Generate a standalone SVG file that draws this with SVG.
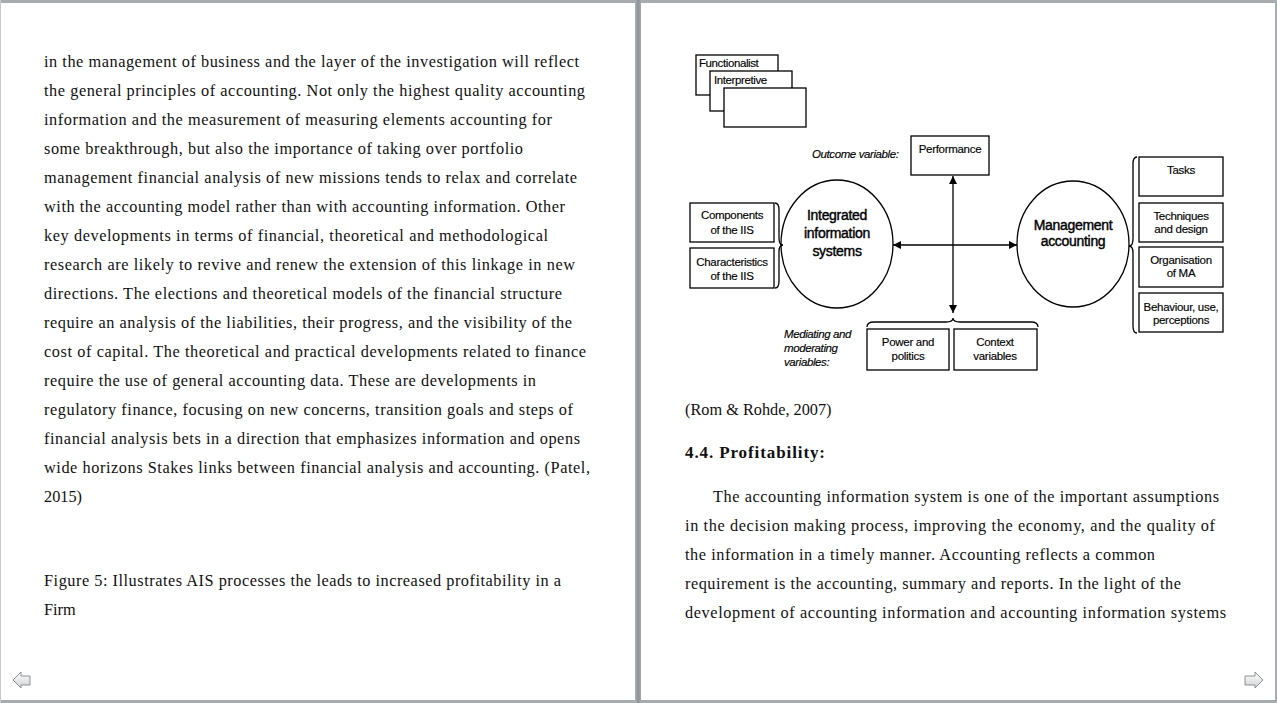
<svg xmlns="http://www.w3.org/2000/svg" width="1277" height="703" viewBox="0 0 1277 703">
<defs>
<linearGradient id="divg" x1="0" y1="0" x2="1" y2="0">
<stop offset="0" stop-color="#b0b3b7"/><stop offset="0.5" stop-color="#8c9094"/><stop offset="1" stop-color="#a8abaf"/>
</linearGradient>
<linearGradient id="navg" x1="0" y1="0" x2="0" y2="1">
<stop offset="0" stop-color="#ffffff"/><stop offset="1" stop-color="#cfd1d3"/>
</linearGradient>
<marker id="ah" viewBox="0 0 10 10" refX="10" refY="5" markerWidth="8" markerHeight="8" markerUnits="userSpaceOnUse" orient="auto-start-reverse">
<path d="M0,0 L10,5 L0,10 z" fill="#000"/>
</marker>
<style>
.body{font-family:"Liberation Serif","Times New Roman",serif;font-size:16.3px;fill:#111;}
.bold{font-weight:bold;font-size:17px;}
.d{font-family:"Liberation Sans",Arial,sans-serif;fill:#000;}
.lab{font-size:11.5px;text-anchor:middle;letter-spacing:-0.3px;stroke:#000;stroke-width:0.15;}
.big{font-size:14px;text-anchor:middle;letter-spacing:-0.3px;stroke:#000;stroke-width:0.4;}
.it{font-size:11.5px;font-style:italic;letter-spacing:-0.4px;stroke:#000;stroke-width:0.15;}
.box{fill:#fff;stroke:#000;stroke-width:1.3;}
.ln{fill:none;stroke:#000;stroke-width:1.3;}
</style>
</defs>
<rect x="0" y="0" width="1277" height="703" fill="#fff"/>
<rect x="0" y="0" width="1277" height="3" fill="#a8acb0"/>
<rect x="0" y="700" width="1277" height="3" fill="#a8acb0"/>
<rect x="1275" y="0" width="2" height="703" fill="#a8acb0"/>
<rect x="0" y="0" width="1" height="703" fill="#c8cbce"/>
<rect x="635" y="0" width="6" height="703" fill="url(#divg)"/>
<polygon points="13,680 21,672 21,676 30,676 30,685 21,685 21,688" fill="url(#navg)" stroke="#8e9194" stroke-width="1"/>
<polygon points="1263,680 1255,672 1255,676 1245,676 1245,685 1255,685 1255,688" fill="url(#navg)" stroke="#8e9194" stroke-width="1"/>

<g id="left-page-text" class="body">
<text x="44" y="67" textLength="535" lengthAdjust="spacing">in the management of business and the layer of the investigation will reflect</text>
<text x="44" y="96" textLength="541" lengthAdjust="spacing">the general principles of accounting. Not only the highest quality accounting</text>
<text x="44" y="125" textLength="508" lengthAdjust="spacing">information and the measurement of measuring elements accounting for</text>
<text x="44" y="154" textLength="479" lengthAdjust="spacing">some breakthrough, but also the importance of taking over portfolio</text>
<text x="44" y="183" textLength="533" lengthAdjust="spacing">management financial analysis of new missions tends to relax and correlate</text>
<text x="44" y="212" textLength="521" lengthAdjust="spacing">with the accounting model rather than with accounting information. Other</text>
<text x="44" y="241" textLength="504" lengthAdjust="spacing">key developments in terms of financial, theoretical and methodological</text>
<text x="44" y="270" textLength="531" lengthAdjust="spacing">research are likely to revive and renew the extension of this linkage in new</text>
<text x="44" y="299" textLength="518" lengthAdjust="spacing">directions. The elections and theoretical models of the financial structure</text>
<text x="44" y="328" textLength="528" lengthAdjust="spacing">require an analysis of the liabilities, their progress, and the visibility of the</text>
<text x="44" y="357" textLength="542" lengthAdjust="spacing">cost of capital. The theoretical and practical developments related to finance</text>
<text x="44" y="386" textLength="492" lengthAdjust="spacing">require the use of general accounting data. These are developments in</text>
<text x="44" y="415" textLength="529" lengthAdjust="spacing">regulatory finance, focusing on new concerns, transition goals and steps of</text>
<text x="44" y="444" textLength="536" lengthAdjust="spacing">financial analysis bets in a direction that emphasizes information and opens</text>
<text x="44" y="473" textLength="546" lengthAdjust="spacing">wide horizons Stakes links between financial analysis and accounting. (Patel,</text>
<text x="44" y="502">2015)</text>
<text x="44" y="586" textLength="517" lengthAdjust="spacing">Figure 5: Illustrates AIS processes the leads to increased profitability in a</text>
<text x="44" y="615">Firm</text>
</g>

<g id="right-page-text" class="body">
<text x="685" y="415">(Rom &amp; Rohde, 2007)</text>
<text x="685" y="458" class="bold" textLength="140" lengthAdjust="spacing">4.4. Profitability:</text>
<text x="713" y="502" textLength="506" lengthAdjust="spacing">The accounting information system is one of the important assumptions</text>
<text x="685" y="531" textLength="530" lengthAdjust="spacing">in the decision making process, improving the economy, and the quality of</text>
<text x="685" y="560" textLength="470" lengthAdjust="spacing">the information in a timely manner. Accounting reflects a common</text>
<text x="685" y="589" textLength="496" lengthAdjust="spacing">requirement is the accounting, summary and reports. In the light of the</text>
<text x="685" y="618" textLength="541" lengthAdjust="spacing">development of accounting information and accounting information systems</text>
</g>

<g id="paradigms" class="d">
<rect class="box" x="696" y="55" width="82" height="40"/>
<text x="699" y="67" font-size="11.5" letter-spacing="-0.4" stroke="#000" stroke-width="0.15">Functionalist</text>
<rect class="box" x="710" y="71" width="82" height="40"/>
<text x="714" y="84" font-size="11.5" letter-spacing="-0.4" stroke="#000" stroke-width="0.15">Interpretive</text>
<rect class="box" x="724" y="88" width="82" height="39"/>
</g>

<g id="outcome-label" class="d"><text class="it" x="812" y="158">Outcome variable:</text></g>
<g id="performance" class="d">
<rect class="box" x="911" y="136" width="78" height="39"/>
<text class="lab" x="950" y="153">Performance</text>
</g>

<g id="iis" class="d">
<ellipse class="ln" cx="837" cy="244" rx="56" ry="64"/>
<text class="big" x="837" y="220">Integrated</text>
<text class="big" x="837" y="238">information</text>
<text class="big" x="837" y="256">systems</text>
</g>
<g id="components" class="d">
<rect class="box" x="690" y="203" width="84" height="39"/>
<text class="lab" x="732" y="219">Components</text>
<text class="lab" x="732" y="234">of the IIS</text>
</g>
<g id="characteristics" class="d">
<rect class="box" x="690" y="248" width="84" height="40"/>
<text class="lab" x="732" y="266">Characteristics</text>
<text class="lab" x="732" y="280">of the IIS</text>
</g>

<g id="ma" class="d">
<ellipse class="ln" cx="1073" cy="244" rx="56" ry="63"/>
<text class="big" x="1073" y="230">Management</text>
<text class="big" x="1073" y="246">accounting</text>
</g>
<g id="tasks" class="d">
<rect class="box" x="1139" y="157" width="84" height="39"/>
<text class="lab" x="1181" y="174">Tasks</text>
</g>
<g id="techniques" class="d">
<rect class="box" x="1139" y="203" width="84" height="39"/>
<text class="lab" x="1181" y="220">Techniques</text>
<text class="lab" x="1181" y="233">and design</text>
</g>
<g id="organisation" class="d">
<rect class="box" x="1139" y="247" width="84" height="40"/>
<text class="lab" x="1181" y="264">Organisation</text>
<text class="lab" x="1181" y="277">of MA</text>
</g>
<g id="behaviour" class="d">
<rect class="box" x="1139" y="293" width="84" height="39"/>
<text class="lab" x="1181" y="311">Behaviour, use,</text>
<text class="lab" x="1181" y="324">perceptions</text>
</g>

<g id="mediating-label" class="d">
<text class="it" x="784" y="338">Mediating and</text>
<text class="it" x="784" y="352">moderating</text>
<text class="it" x="784" y="366">variables:</text>
</g>
<g id="power" class="d">
<rect class="box" x="867" y="329" width="82" height="41"/>
<text class="lab" x="908" y="346">Power and</text>
<text class="lab" x="908" y="360">politics</text>
</g>
<g id="context" class="d">
<rect class="box" x="954" y="329" width="83" height="41"/>
<text class="lab" x="995" y="346">Context</text>
<text class="lab" x="995" y="360">variables</text>
</g>

<g id="connectors">
<line class="ln" x1="953" y1="176" x2="953" y2="313" marker-start="url(#ah)" marker-end="url(#ah)"/>
<line class="ln" x1="893" y1="245" x2="1017" y2="245" marker-start="url(#ah)" marker-end="url(#ah)"/>
<path class="ln" d="M775,203 Q779,203 779,210 L779,238 Q779,245 783,245 Q779,245 779,252 L779,281 Q779,288 775,288"/>
<path class="ln" d="M1137,157 Q1133,157 1133,164 L1133,239 Q1133,246 1129,246 Q1133,246 1133,253 L1133,326 Q1133,333 1137,333"/>
<path class="ln" d="M867,327 Q867,322 874,322 L946,322 Q953,322 953,318 Q953,322 960,322 L1031,322 Q1038,322 1038,327"/>
</g>
</svg>
